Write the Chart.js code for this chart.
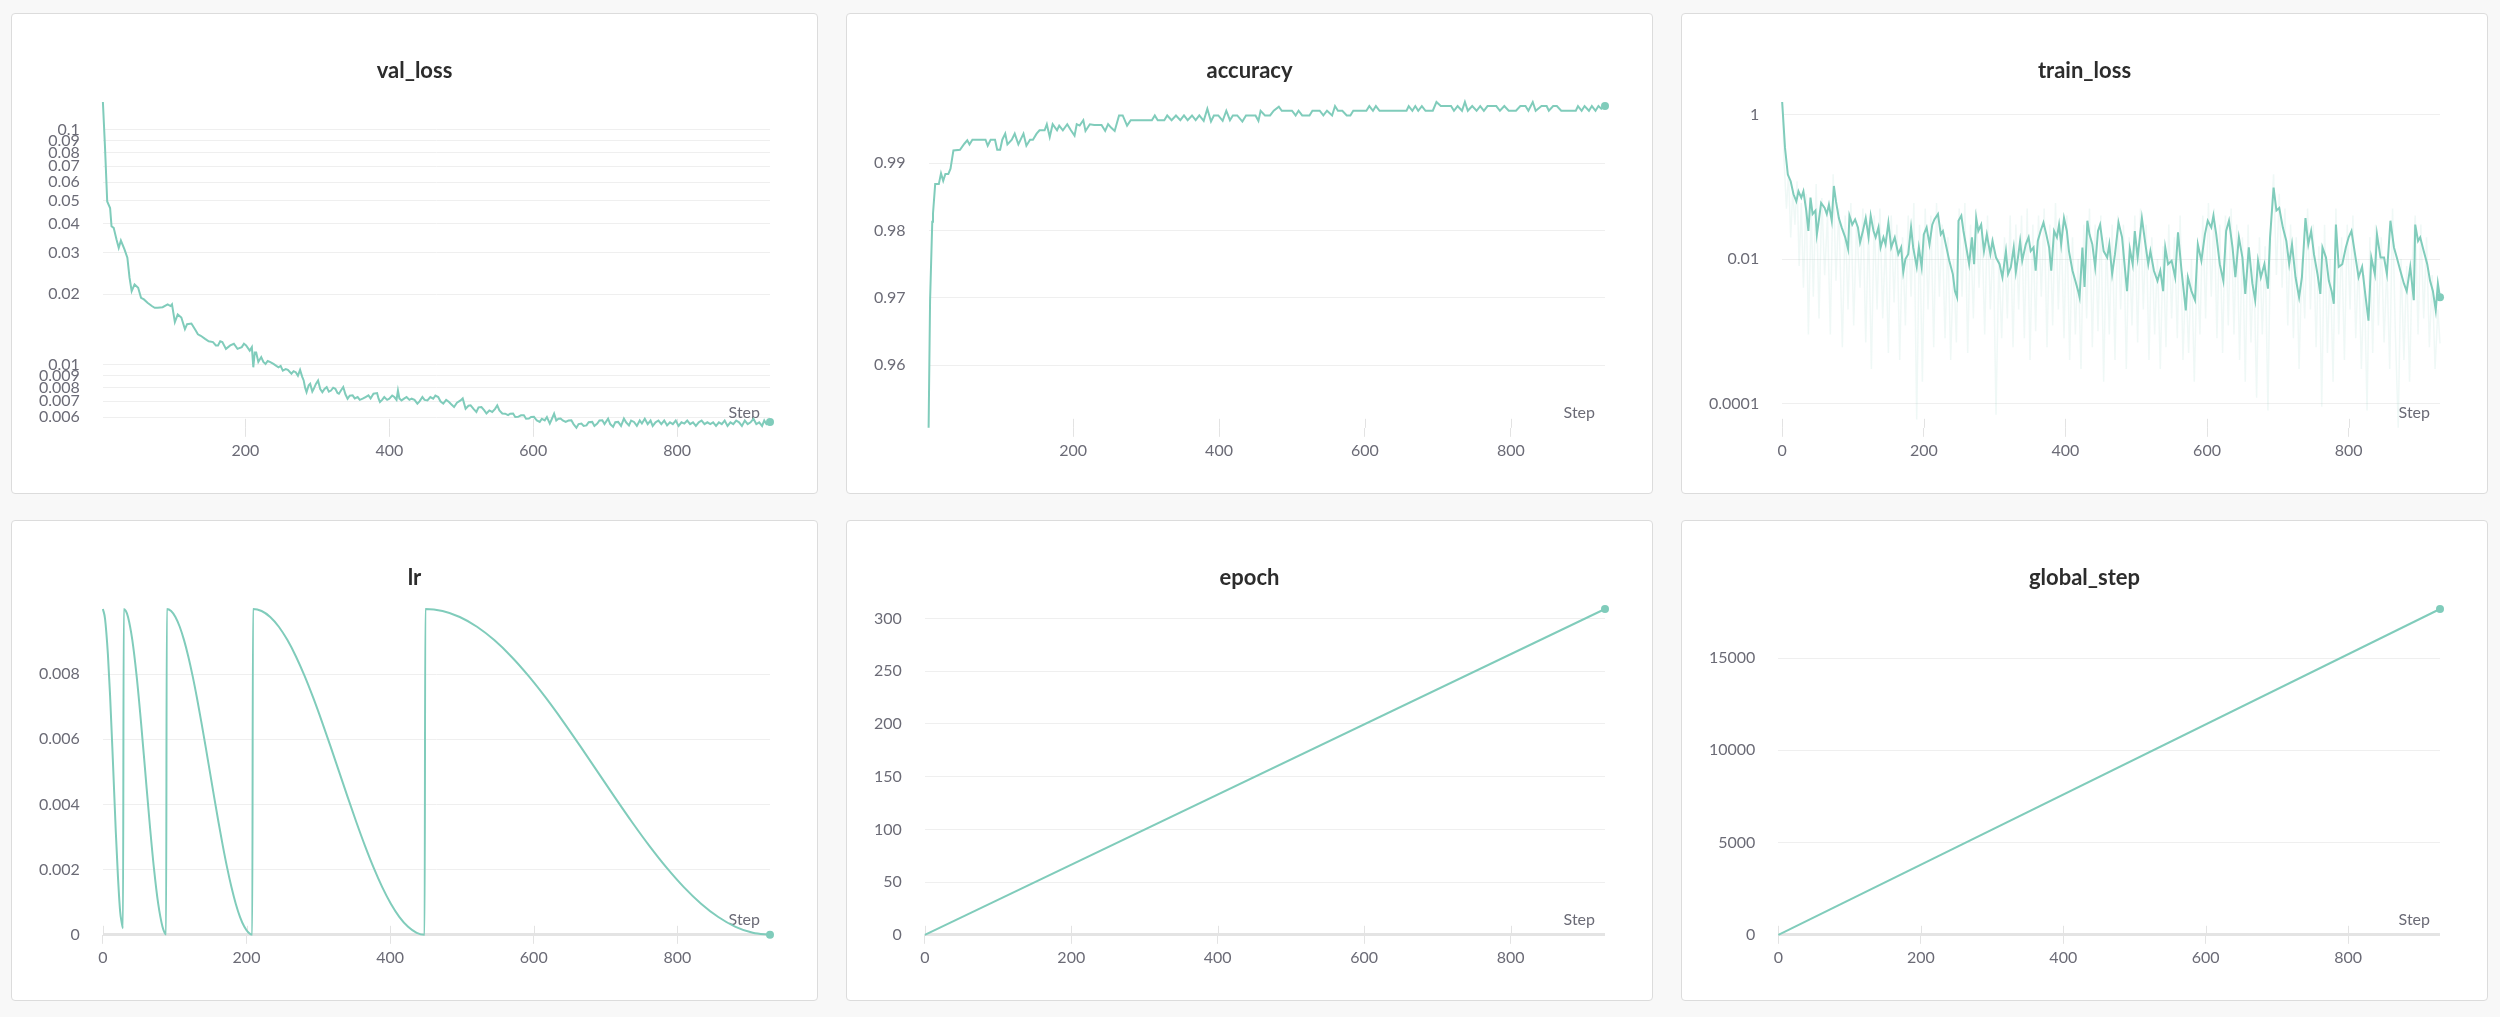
<!DOCTYPE html>
<html>
<head>
<meta charset="utf-8">
<script src="https://cdn.jsdelivr.net/npm/chart.js@4.4.1/dist/chart.umd.min.js"></script>
<style>
  body { margin: 0; background: #f8f8f8; width: 2500px; height: 1017px; position: relative; overflow: hidden; font-family: Lato, "Noto Sans", sans-serif; }
  .panel { position: absolute; width: 807px; height: 481px; background: #fff; border: 1px solid #dcdcdc; border-radius: 4px; box-sizing: border-box; }
  .title { position: absolute; left: 0; right: 0; top: 43px; text-align: center; font-weight: 700; font-size: 22px; line-height: 26px; color: #2c2c2c; z-index: 2; }
  .box { position: absolute; left: 0; top: 0; right: 0; bottom: 0; }
</style>
</head>
<body>

<div class="panel" style="left:11px;top:13px"><div class="title">val_loss</div><div class="box"><canvas id="valLoss"></canvas></div></div>
<div class="panel" style="left:846px;top:13px"><div class="title">accuracy</div><div class="box"><canvas id="accuracy"></canvas></div></div>
<div class="panel" style="left:1681px;top:13px"><div class="title">train_loss</div><div class="box"><canvas id="trainLoss"></canvas></div></div>
<div class="panel" style="left:11px;top:520px"><div class="title">lr</div><div class="box"><canvas id="lr"></canvas></div></div>
<div class="panel" style="left:846px;top:520px"><div class="title">epoch</div><div class="box"><canvas id="epoch"></canvas></div></div>
<div class="panel" style="left:1681px;top:520px"><div class="title">global_step</div><div class="box"><canvas id="globalStep"></canvas></div></div>

<script>
// ---- data ----
const stepTicks = [0, 200, 400, 600, 800];

// val_loss (log axis)
const valLossTicks = [0.1, 0.09, 0.08, 0.07, 0.06, 0.05, 0.04, 0.03, 0.02, 0.01, 0.009, 0.008, 0.007, 0.006];
const valLossSteps = [2, 5, 8, 12, 14, 17, 21, 24, 27, 32, 36, 39, 42, 46, 51, 55, 59, 64, 70, 74, 78, 85, 92, 96, 98, 102, 106, 111, 116, 119, 125, 131, 134, 138, 144, 149, 155, 159, 162, 165, 168, 173, 179, 184, 189, 195, 198, 201, 206, 209, 211, 213, 215, 218, 222, 225, 228, 231, 234, 239, 243, 246, 249, 252, 256, 259, 264, 267, 270, 273, 276, 279, 281, 283, 285, 288, 290, 293, 295, 298, 301, 304, 307, 310, 313, 316, 319, 322, 325, 328, 330, 333, 336, 339, 342, 345, 349, 352, 356, 359, 363, 367, 371, 374, 378, 383, 385, 387, 390, 393, 397, 400, 404, 407, 410, 412, 414, 417, 421, 424, 428, 431, 435, 439, 442, 446, 449, 453, 457, 461, 464, 468, 471, 475, 479, 483, 486, 490, 494, 499, 502, 506, 510, 513, 517, 521, 524, 528, 532, 535, 539, 543, 547, 550, 553, 557, 561, 565, 568, 572, 575, 579, 583, 587, 590, 594, 597, 601, 605, 609, 612, 616, 619, 623, 626, 629, 632, 635, 638, 641, 645, 649, 653, 656, 660, 663, 667, 670, 674, 677, 682, 685, 689, 692, 696, 699, 704, 707, 711, 714, 718, 722, 726, 729, 733, 736, 740, 744, 748, 751, 755, 759, 763, 766, 770, 774, 778, 782, 786, 790, 794, 798, 802, 806, 810, 814, 818, 822, 826, 830, 834, 838, 842, 846, 850, 854, 858, 862, 866, 870, 874, 878, 882, 886, 890, 894, 898, 902, 906, 910, 914, 918, 921, 924, 927, 929];
const valLossValues = [0.1314, 0.0834, 0.0496, 0.0465, 0.0389, 0.0383, 0.0341, 0.0315, 0.0338, 0.0310, 0.0286, 0.0235, 0.0206, 0.0220, 0.0213, 0.0193, 0.0190, 0.0184, 0.0178, 0.0175, 0.0175, 0.0176, 0.0181, 0.0178, 0.0181, 0.0152, 0.0164, 0.0159, 0.0142, 0.0149, 0.0150, 0.0140, 0.0135, 0.0133, 0.0129, 0.0126, 0.0125, 0.0121, 0.0121, 0.0126, 0.0125, 0.0117, 0.0121, 0.0123, 0.0117, 0.0119, 0.0123, 0.0121, 0.0115, 0.0119, 0.00977, 0.0113, 0.0113, 0.0103, 0.0108, 0.0103, 0.0101, 0.0104, 0.0103, 0.0101, 0.0099, 0.00977, 0.0099, 0.00946, 0.0096, 0.00952, 0.00917, 0.0094, 0.00931, 0.0090, 0.00952, 0.0089, 0.00859, 0.0080, 0.00766, 0.0082, 0.00832, 0.0077, 0.00791, 0.0083, 0.00859, 0.0079, 0.00766, 0.0079, 0.00805, 0.0077, 0.00778, 0.0080, 0.00791, 0.0076, 0.00754, 0.0078, 0.00805, 0.0075, 0.00718, 0.0074, 0.00742, 0.0072, 0.0073, 0.0071, 0.00718, 0.0073, 0.00742, 0.0072, 0.00754, 0.00759, 0.0072, 0.00695, 0.0071, 0.0073, 0.0071, 0.00718, 0.0074, 0.0073, 0.0071, 0.00778, 0.0072, 0.00706, 0.0072, 0.0073, 0.0071, 0.00718, 0.0071, 0.00684, 0.0070, 0.0073, 0.0071, 0.00706, 0.0073, 0.00718, 0.0074, 0.0073, 0.0070, 0.00684, 0.0071, 0.00695, 0.0068, 0.00662, 0.0069, 0.00706, 0.0072, 0.00651, 0.0067, 0.00673, 0.0065, 0.00631, 0.0066, 0.00662, 0.0064, 0.00621, 0.0064, 0.00631, 0.0065, 0.00673, 0.0064, 0.00621, 0.0062, 0.00611, 0.0062, 0.00621, 0.0060, 0.00601, 0.0061, 0.00611, 0.0059, 0.00591, 0.0060, 0.00601, 0.0058, 0.00572, 0.0059, 0.00581, 0.0060, 0.00563, 0.0059, 0.0062, 0.0058, 0.0059, 0.00591, 0.0058, 0.00572, 0.0058, 0.00581, 0.0056, 0.0054, 0.0056, 0.00563, 0.0055, 0.00553, 0.0057, 0.00572, 0.0055, 0.00563, 0.0058, 0.00581, 0.0056, 0.00591, 0.0056, 0.00545, 0.0057, 0.00572, 0.0055, 0.00591, 0.0057, 0.00553, 0.0058, 0.00572, 0.0055, 0.0058, 0.00563, 0.0059, 0.0056, 0.0058, 0.0055, 0.0057, 0.0058, 0.0056, 0.0058, 0.00553, 0.0057, 0.0056, 0.0058, 0.0055, 0.0057, 0.00563, 0.0058, 0.0056, 0.0057, 0.0055, 0.0057, 0.0058, 0.0056, 0.0057, 0.0056, 0.0057, 0.0055, 0.0057, 0.0056, 0.0058, 0.0055, 0.0057, 0.0056, 0.0058, 0.0057, 0.0055, 0.0058, 0.0056, 0.0057, 0.0059, 0.0056, 0.0057, 0.0055, 0.0058, 0.0056, 0.0057, 0.00572];

// accuracy
const accTicks = [0.96, 0.97, 0.98, 0.99];
const accSteps = [2, 4, 7, 8, 11, 16, 19, 22, 25, 29, 32, 36, 45, 51, 55, 58, 62, 80, 83, 87, 93, 96, 100, 103, 107, 110, 116, 120, 125, 132, 136, 141, 145, 150, 154, 161, 164, 168, 172, 178, 181, 186, 192, 197, 202, 205, 209, 214, 217, 223, 229, 239, 244, 248, 252, 257, 263, 268, 274, 279, 308, 312, 316, 325, 329, 335, 341, 347, 352, 357, 363, 368, 373, 379, 384, 389, 393, 399, 405, 410, 415, 419, 425, 432, 437, 450, 454, 457, 463, 470, 475, 482, 486, 500, 505, 509, 514, 524, 528, 538, 543, 548, 555, 559, 563, 569, 575, 580, 584, 602, 606, 611, 615, 620, 657, 660, 665, 669, 673, 678, 683, 693, 698, 704, 718, 722, 727, 733, 737, 741, 747, 753, 758, 763, 768, 780, 785, 791, 797, 807, 813, 820, 824, 830, 834, 842, 849, 852, 858, 863, 869, 889, 892, 897, 901, 907, 911, 916, 920, 924, 929];
const accValues = [0.9507, 0.9696, 0.9813, 0.9825, 0.9869, 0.9869, 0.9885, 0.9874, 0.9884, 0.9884, 0.9892, 0.9919, 0.9920, 0.9929, 0.9934, 0.9928, 0.9935, 0.9935, 0.9926, 0.9935, 0.9935, 0.9920, 0.9920, 0.9935, 0.9944, 0.9928, 0.9935, 0.9944, 0.9928, 0.9944, 0.9926, 0.9935, 0.9935, 0.9944, 0.9949, 0.9949, 0.9958, 0.9939, 0.9958, 0.9949, 0.9956, 0.9949, 0.9958, 0.9949, 0.9941, 0.9958, 0.9956, 0.9964, 0.9948, 0.9958, 0.9957, 0.9957, 0.9948, 0.9958, 0.9953, 0.9948, 0.9971, 0.9971, 0.9956, 0.9964, 0.9964, 0.9971, 0.9964, 0.9964, 0.9971, 0.9964, 0.9971, 0.9964, 0.9971, 0.9964, 0.9971, 0.9964, 0.9971, 0.9963, 0.9981, 0.9962, 0.9971, 0.9971, 0.9963, 0.9978, 0.9964, 0.9971, 0.9971, 0.9962, 0.9971, 0.9971, 0.9963, 0.9978, 0.9971, 0.9971, 0.9978, 0.9984, 0.9978, 0.9978, 0.9971, 0.9978, 0.9971, 0.9971, 0.9978, 0.9978, 0.9971, 0.9978, 0.9971, 0.9985, 0.9978, 0.9978, 0.9971, 0.9971, 0.9978, 0.9978, 0.9985, 0.9978, 0.9985, 0.9978, 0.9978, 0.9985, 0.9978, 0.9985, 0.9978, 0.9985, 0.9978, 0.9978, 0.9991, 0.9985, 0.9985, 0.9978, 0.9985, 0.9978, 0.9991, 0.9978, 0.9985, 0.9978, 0.9985, 0.9978, 0.9985, 0.9985, 0.9978, 0.9985, 0.9978, 0.9978, 0.9985, 0.9985, 0.9978, 0.9991, 0.9978, 0.9985, 0.9985, 0.9978, 0.9985, 0.9985, 0.9978, 0.9978, 0.9985, 0.9978, 0.9985, 0.9978, 0.9985, 0.9978, 0.9985, 0.9981, 0.9985];

// train_loss (log axis): smoothed line + faint raw line
const trainLossTicks = [1, 0.01, 0.0001];
const trainSmoothSteps = [0, 4, 8, 12, 16, 20, 23, 27, 30, 34, 37, 40, 43, 47, 49, 51, 55, 60, 63, 66, 70, 73, 76, 80, 84, 89, 93, 95, 99, 103, 107, 110, 114, 118, 122, 125, 129, 132, 136, 139, 143, 146, 150, 154, 159, 164, 168, 171, 174, 178, 182, 185, 190, 193, 197, 200, 204, 208, 212, 215, 220, 224, 227, 232, 236, 241, 244, 247, 249, 253, 256, 260, 264, 268, 271, 274, 277, 281, 285, 289, 294, 297, 302, 307, 311, 316, 319, 323, 327, 330, 333, 336, 339, 344, 348, 351, 355, 358, 361, 365, 369, 373, 377, 380, 384, 388, 391, 394, 398, 402, 405, 410, 414, 418, 420, 424, 427, 431, 434, 438, 442, 446, 449, 454, 459, 462, 466, 470, 475, 480, 487, 491, 495, 498, 502, 508, 513, 517, 520, 525, 530, 534, 538, 541, 545, 550, 555, 559, 564, 570, 573, 578, 583, 587, 592, 597, 601, 606, 609, 613, 618, 623, 627, 631, 636, 640, 645, 650, 654, 659, 664, 668, 672, 676, 681, 686, 689, 694, 698, 702, 707, 712, 716, 720, 725, 730, 734, 739, 743, 747, 751, 756, 760, 763, 768, 772, 776, 779, 782, 786, 791, 796, 800, 804, 809, 814, 819, 824, 828, 832, 837, 840, 845, 850, 854, 859, 864, 868, 873, 878, 882, 887, 892, 894, 898, 901, 906, 911, 915, 919, 923, 926, 929];
const trainSmoothValues = [1.5, 0.347, 0.148, 0.120, 0.079, 0.063, 0.087, 0.071, 0.087, 0.047, 0.0245, 0.071, 0.042, 0.047, 0.022, 0.030, 0.060, 0.051, 0.042, 0.057, 0.034, 0.103, 0.063, 0.037, 0.0275, 0.020, 0.0138, 0.040, 0.030, 0.0355, 0.0275, 0.017, 0.0245, 0.037, 0.020, 0.040, 0.0245, 0.020, 0.0275, 0.0145, 0.020, 0.016, 0.032, 0.0145, 0.020, 0.0117, 0.0145, 0.0066, 0.010, 0.0117, 0.0275, 0.0145, 0.0078, 0.0145, 0.0078, 0.022, 0.0275, 0.016, 0.030, 0.0355, 0.042, 0.022, 0.0245, 0.0145, 0.0095, 0.0062, 0.0036, 0.00295, 0.034, 0.040, 0.0245, 0.0145, 0.0085, 0.020, 0.0085, 0.037, 0.0245, 0.030, 0.0129, 0.022, 0.0117, 0.0178, 0.0105, 0.0085, 0.0056, 0.0129, 0.0062, 0.0078, 0.0145, 0.0066, 0.0105, 0.0178, 0.0095, 0.016, 0.020, 0.0129, 0.0145, 0.0069, 0.0178, 0.0245, 0.032, 0.022, 0.0145, 0.0069, 0.0245, 0.020, 0.030, 0.016, 0.037, 0.0245, 0.0129, 0.0069, 0.0050, 0.0036, 0.00295, 0.0145, 0.0041, 0.034, 0.022, 0.016, 0.0078, 0.0245, 0.030, 0.0129, 0.0105, 0.016, 0.0062, 0.0117, 0.032, 0.020, 0.0036, 0.0138, 0.0085, 0.0245, 0.0105, 0.037, 0.016, 0.0085, 0.0129, 0.0069, 0.0050, 0.0069, 0.0036, 0.0145, 0.0085, 0.0095, 0.0056, 0.0234, 0.0069, 0.00195, 0.0056, 0.0036, 0.0027, 0.016, 0.0095, 0.022, 0.034, 0.0275, 0.040, 0.022, 0.0085, 0.0050, 0.0245, 0.034, 0.0145, 0.0056, 0.020, 0.0105, 0.0033, 0.0145, 0.0046, 0.0027, 0.0095, 0.0056, 0.0085, 0.0039, 0.020, 0.098, 0.047, 0.051, 0.0275, 0.0178, 0.0085, 0.016, 0.0056, 0.00295, 0.0056, 0.037, 0.016, 0.0245, 0.0117, 0.0062, 0.0033, 0.0145, 0.0105, 0.0050, 0.0036, 0.0024, 0.030, 0.0078, 0.0085, 0.0145, 0.020, 0.0245, 0.0117, 0.0056, 0.0078, 0.00295, 0.0014, 0.0105, 0.0062, 0.022, 0.0105, 0.0105, 0.0062, 0.034, 0.0145, 0.0105, 0.0069, 0.0046, 0.0036, 0.0078, 0.0027, 0.030, 0.0178, 0.020, 0.0129, 0.0085, 0.0050, 0.0036, 0.00195, 0.0046, 0.00295];
const trainRawSteps = [0, 3, 6, 9, 12, 15, 18, 21, 24, 27, 30, 34, 37, 41, 44, 48, 52, 56, 60, 64, 68, 72, 76, 80, 85, 89, 93, 97, 101, 105, 110, 114, 118, 122, 126, 130, 134, 138, 142, 146, 150, 154, 158, 162, 166, 170, 174, 178, 182, 186, 190, 194, 198, 202, 206, 210, 214, 218, 222, 226, 230, 234, 238, 242, 246, 250, 254, 258, 262, 266, 270, 274, 278, 282, 286, 290, 294, 298, 302, 306, 310, 314, 318, 322, 326, 330, 334, 338, 342, 346, 350, 354, 358, 362, 366, 370, 374, 378, 382, 386, 390, 394, 398, 402, 406, 410, 414, 418, 422, 426, 430, 434, 438, 442, 446, 450, 454, 458, 462, 466, 470, 474, 478, 482, 486, 490, 494, 498, 502, 506, 510, 514, 518, 522, 526, 530, 534, 538, 542, 546, 550, 554, 558, 562, 566, 570, 574, 578, 582, 586, 590, 594, 598, 602, 606, 610, 614, 618, 622, 626, 630, 634, 638, 642, 646, 650, 654, 658, 662, 666, 670, 674, 678, 682, 686, 690, 694, 698, 702, 706, 710, 714, 718, 722, 726, 730, 734, 738, 742, 746, 750, 754, 758, 762, 766, 770, 774, 778, 782, 786, 790, 794, 798, 802, 806, 810, 814, 818, 822, 826, 830, 834, 838, 842, 846, 850, 854, 858, 862, 866, 870, 874, 878, 882, 886, 890, 894, 898, 902, 906, 910, 914, 918, 922, 926, 929];
const trainRawValues = [1.5, 0.2, 0.05, 0.15, 0.02, 0.09, 0.03, 0.12, 0.008, 0.06, 0.004, 0.08, 0.0009, 0.05, 0.003, 0.11, 0.0015, 0.07, 0.006, 0.04, 0.0009, 0.15, 0.005, 0.05, 0.0006, 0.04, 0.002, 0.06, 0.0012, 0.03, 0.004, 0.05, 0.0007, 0.03, 0.0003, 0.04, 0.002, 0.05, 0.0015, 0.02, 0.0005, 0.04, 0.0025, 0.03, 0.0004, 0.02, 0.0012, 0.04, 0.003, 0.06, 0.00006, 0.03, 0.0002, 0.05, 0.002, 0.04, 0.0006, 0.06, 0.003, 0.03, 0.0008, 0.02, 0.0004, 0.01, 0.0007, 0.05, 0.003, 0.06, 0.0005, 0.03, 0.0015, 0.05, 0.004, 0.03, 0.0009, 0.04, 0.002, 0.02, 0.00007, 0.01, 0.0008, 0.02, 0.0015, 0.04, 0.0006, 0.03, 0.002, 0.04, 0.0008, 0.05, 0.0004, 0.03, 0.001, 0.04, 0.003, 0.05, 0.0006, 0.03, 0.0012, 0.06, 0.002, 0.03, 0.0008, 0.04, 0.0004, 0.02, 0.0009, 0.01, 0.0003, 0.03, 0.0015, 0.05, 0.0006, 0.03, 0.001, 0.04, 0.0002, 0.02, 0.0009, 0.03, 0.0004, 0.04, 0.002, 0.03, 0.0003, 0.02, 0.0012, 0.04, 0.0007, 0.05, 0.002, 0.03, 0.0004, 0.02, 0.0009, 0.01, 0.0003, 0.015, 0.0006, 0.03, 0.0015, 0.02, 0.0008, 0.04, 0.0004, 0.006, 0.0005, 0.01, 0.0002, 0.008, 0.0009, 0.04, 0.0015, 0.06, 0.003, 0.05, 0.0008, 0.03, 0.0005, 0.04, 0.0012, 0.05, 0.0009, 0.03, 0.0004, 0.02, 0.0002, 0.03, 0.0007, 0.01, 0.00012, 0.02, 0.0009, 0.015, 0.00008, 0.03, 0.15, 0.006, 0.08, 0.004, 0.05, 0.0012, 0.03, 0.0008, 0.02, 0.0003, 0.01, 0.0015, 0.05, 0.002, 0.03, 0.0006, 0.015, 0.00009, 0.03, 0.0005, 0.01, 0.0002, 0.05, 0.0009, 0.02, 0.0004, 0.03, 0.002, 0.04, 0.0008, 0.01, 0.0003, 0.006, 0.00008, 0.02, 0.0005, 0.03, 0.0012, 0.02, 0.0007, 0.008, 0.0003, 0.05, 0.0009, 0.000046, 0.01, 0.0004, 0.008, 0.0002, 0.01, 0.04, 0.0009, 0.03, 0.0015, 0.02, 0.0006, 0.006, 0.0003, 0.002, 0.00068];

// lr (cosine restarts)
const lrTicks = [0, 0.002, 0.004, 0.006, 0.008];
const lrSteps = [0, 3, 7, 10, 14, 18, 21, 24, 26, 28, 29, 32, 35, 41, 47, 53, 59, 65, 71, 77, 83, 86, 88, 89, 95, 101, 107, 113, 119, 125, 131, 137, 143, 149, 155, 161, 167, 173, 179, 185, 191, 197, 203, 208, 209, 221, 233, 245, 257, 269, 281, 293, 305, 317, 329, 341, 353, 365, 377, 389, 401, 413, 425, 437, 448, 449, 473, 497, 521, 545, 569, 593, 617, 641, 665, 689, 713, 737, 761, 785, 809, 833, 857, 881, 905, 929];
const lrValues = [0.01, 0.0097, 0.0086, 0.00735, 0.0053, 0.00315, 0.00177, 0.00072, 0.0004, 0.0002, 0.01, 0.009938, 0.009755, 0.009045, 0.007939, 0.006545, 0.005, 0.003455, 0.002061, 0.000955, 0.000245, 0.0000616, 0.0000068, 0.01, 0.009938, 0.009755, 0.009455, 0.009045, 0.008536, 0.007939, 0.00727, 0.006545, 0.005782, 0.005, 0.004218, 0.003455, 0.00273, 0.002061, 0.001464, 0.000955, 0.000545, 0.000245, 0.0000616, 0.0000017, 0.01, 0.009938, 0.009755, 0.009455, 0.009045, 0.008536, 0.007939, 0.00727, 0.006545, 0.005782, 0.005, 0.004218, 0.003455, 0.00273, 0.002061, 0.001464, 0.000955, 0.000545, 0.000245, 0.0000616, 0.0000004, 0.01, 0.009938, 0.009755, 0.009455, 0.009045, 0.008536, 0.007939, 0.00727, 0.006545, 0.005782, 0.005, 0.004218, 0.003455, 0.00273, 0.002061, 0.001464, 0.000955, 0.000545, 0.000245, 0.0000616, 0];

// epoch and global_step
const epochTicks = [0, 50, 100, 150, 200, 250, 300];
const epochSteps = [0, 929];
const epochValues = [0, 309];
const globalStepTicks = [0, 5000, 10000, 15000];
const globalStepSteps = [0, 929];
const globalStepValues = [0, 17660];

// ---- styling ----
const TEAL = 'rgb(128, 204, 187)';
const TEAL_FAINT = 'rgba(128, 204, 187, 0.13)';
const LABEL = '#6b6b76';
const FONT = { family: 'Lato, "Noto Sans", sans-serif', size: 16 };

Chart.defaults.animation = false;
Chart.defaults.font.family = FONT.family;

// tick marks crossing the bottom edge + the "Step" word
const stepAxis = {
  id: 'stepAxis',
  beforeDatasetsDraw(chart) {
    const { ctx, chartArea, scales } = chart;
    ctx.save();
    ctx.strokeStyle = '#e3e3e3';
    ctx.lineWidth = 1;
    scales.x.ticks.forEach(t => {
      const px = Math.round(scales.x.getPixelForValue(t.value)) + 0.5;
      ctx.beginPath();
      ctx.moveTo(px, chartArea.bottom - 9);
      ctx.lineTo(px, chartArea.bottom);
      ctx.stroke();
    });
    ctx.fillStyle = LABEL;
    ctx.font = FONT.size + 'px ' + FONT.family;
    ctx.textAlign = 'right';
    ctx.textBaseline = 'middle';
    ctx.fillText('Step', chartArea.right - 10, chartArea.bottom - 15);
    ctx.restore();
  }
};

function line(xs, ys, color, width, lastDot) {
  return {
    data: xs.map((x, i) => ({ x: x, y: ys[i] })),
    borderColor: color,
    borderWidth: width,
    tension: 0,
    pointRadius: c => (lastDot && c.dataIndex === xs.length - 1) ? 4 : 0,
    pointBackgroundColor: color,
    pointBorderWidth: 0,
    clip: 10
  };
}

function makeChart(id, datasets, xs, yType, yTicks, yMin, yMax, interp) {
  if (interp) datasets.forEach(d => { d.cubicInterpolationMode = 'monotone'; });
  return new Chart(document.getElementById(id), {
    type: 'line',
    data: { datasets: datasets },
    plugins: [stepAxis],
    options: {
      responsive: true,
      maintainAspectRatio: false,
      layout: { padding: { left: 4, right: 47, top: 88, bottom: 29 } },
      plugins: { legend: { display: false }, tooltip: { enabled: false } },
      scales: {
        x: {
          type: 'linear',
          min: xs[0],
          max: xs[xs.length - 1],
          afterBuildTicks: s => { s.ticks = stepTicks.filter(v => v >= s.min && v <= s.max).map(v => ({ value: v })); },
          grid: { drawOnChartArea: false, drawTicks: true, tickLength: 9, color: '#e3e3e3' },
          border: { display: false },
          ticks: { padding: 4, color: LABEL, font: FONT, maxRotation: 0, callback: v => String(v) }
        },
        y: {
          type: yType,
          min: yMin,
          max: yMax,
          afterBuildTicks: s => { s.ticks = yTicks.map(v => ({ value: v })); },
          grid: {
            drawTicks: false,
            color: c => (c.tick && c.tick.value === 0) ? '#e4e4e4' : '#efefef',
            lineWidth: c => (c.tick && c.tick.value === 0) ? 3 : 1
          },
          border: { display: false },
          ticks: { padding: 23, autoSkip: false, color: LABEL, font: FONT, callback: v => String(v) }
        }
      }
    }
  });
}

makeChart('valLoss', [line(valLossSteps, valLossValues, TEAL, 2, true)], valLossSteps,
  'logarithmic', valLossTicks, Math.min(...valLossValues), Math.max(...valLossValues));

makeChart('accuracy', [line(accSteps, accValues, TEAL, 2, true)], accSteps,
  'linear', accTicks, Math.min(...accValues), Math.max(...accValues));

const rawSet = line(trainRawSteps, trainRawValues, TEAL_FAINT, 1.5, false);
makeChart('trainLoss', [line(trainSmoothSteps, trainSmoothValues, TEAL, 2, true), rawSet], trainSmoothSteps,
  'logarithmic', trainLossTicks, Math.min(...trainRawValues), Math.max(...trainRawValues));

makeChart('lr', [line(lrSteps, lrValues, TEAL, 2, true)], lrSteps,
  'linear', lrTicks, 0, Math.max(...lrValues), true);

makeChart('epoch', [line(epochSteps, epochValues, TEAL, 2, true)], epochSteps,
  'linear', epochTicks, 0, Math.max(...epochValues));

makeChart('globalStep', [line(globalStepSteps, globalStepValues, TEAL, 2, true)], globalStepSteps,
  'linear', globalStepTicks, 0, Math.max(...globalStepValues));
</script>
</body>
</html>
